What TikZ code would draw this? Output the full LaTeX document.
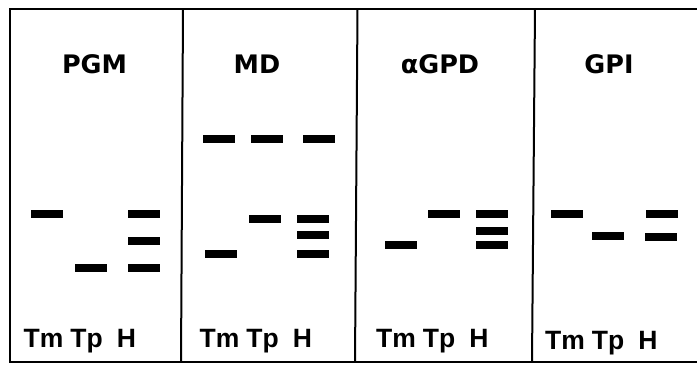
\documentclass[tikz,border=0pt]{standalone}
\usepackage{fontspec}
\newfontfamily\titlefont{DejaVu Sans}
\newfontfamily\labelfont{Liberation Sans}
\tikzset{
  band/.style={fill=black, draw=none, minimum width=32pt, minimum height=8pt, inner sep=0pt, outer sep=0pt},
  frame/.style={line width=2pt, black},
  title/.style={anchor=base, inner sep=0pt, font=\titlefont\bfseries\fontsize{25.5}{25.5}\selectfont},
  lane/.style={anchor=base, inner sep=0pt, font=\labelfont\bfseries\fontsize{26.5}{26.5}\selectfont},
}
\begin{document}
\begin{tikzpicture}[x=1pt,y=-1pt]
\useasboundingbox (0,0) rectangle (697,365);
% frame
\coordinate (tl) at (10,9);
\coordinate (tr) at (698,9);
\coordinate (bl) at (10,362);
\coordinate (br) at (698,362);
\draw[frame] (tr) -- (tl) -- (bl) -- (br);
\coordinate (d1t) at (183,9);   \coordinate (d1b) at (181,362);
\coordinate (d2t) at (357.5,9); \coordinate (d2b) at (355,362);
\coordinate (d3t) at (535,9);   \coordinate (d3b) at (532,362);
\draw[frame] (d1t) -- (d1b);
\draw[frame] (d2t) -- (d2b);
\draw[frame] (d3t) -- (d3b);
% titles
\node[title] (tpgm) at (94.5,73) {PGM};
\node[title] (tmd) at (257,73) {MD};
\node[title] (tagpd) at (440,73) {αGPD};
\node[title] (tgpi) at (609,73) {GPI};
% lane labels
\foreach \off/\yb/\n in {0/347/a,176/347/b,352.5/347/c,521.5/349/d}{
  \node[lane] (tm\n) at (43.5+\off,\yb) {Tm};
  \node[lane] (tp\n) at (86.5+\off,\yb) {Tp};
  \node[lane] (h\n) at (126.5+\off,\yb) {H};
}
% PGM bands
\node[band] (p1) at (47,214) {};
\node[band] (p2) at (90.5,268) {};
\node[band] (p3) at (144,214) {};
\node[band] (p4) at (144,241) {};
\node[band] (p5) at (144,268) {};
% MD bands
\node[band] (m1) at (219,139) {};
\node[band] (m2) at (267,139) {};
\node[band] (m3) at (318.5,139) {};
\node[band] (m4) at (221,254) {};
\node[band] (m5) at (264.5,219) {};
\node[band] (m6) at (313,219) {};
\node[band] (m7) at (313,235) {};
\node[band] (m8) at (313,254) {};
% aGPD bands
\node[band] (g1) at (400.5,245) {};
\node[band] (g2) at (443.5,214) {};
\node[band] (g3) at (491.5,214) {};
\node[band] (g4) at (491.5,231) {};
\node[band] (g5) at (491.5,245) {};
% GPI bands
\node[band] (i1) at (567,214) {};
\node[band] (i2) at (608,236) {};
\node[band] (i3) at (662,214) {};
\node[band] (i4) at (661,237) {};
\end{tikzpicture}
\end{document}
